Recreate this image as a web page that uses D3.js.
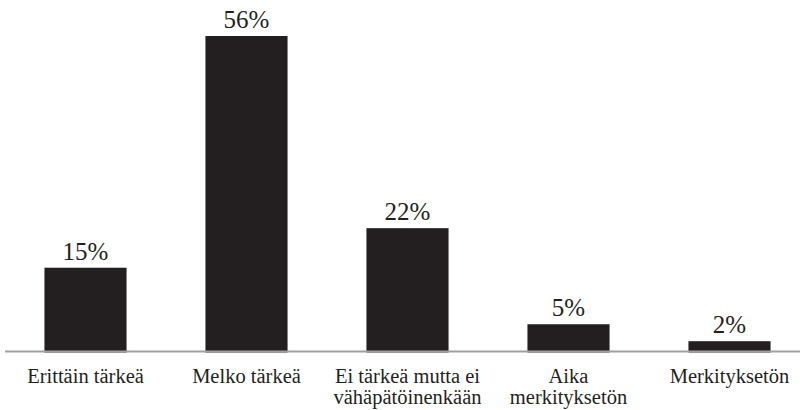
<!DOCTYPE html>
<html>
<head>
<meta charset="utf-8">
<script src="https://cdn.jsdelivr.net/npm/d3@7"></script>
</head>
<body style="margin:0">
<svg id="chart" width="803" height="410" font-family="Liberation Serif"></svg>
<script>
const categories = [["Erittäin tärkeä"], ["Melko tärkeä"], ["Ei tärkeä mutta ei", "vähäpätöinenkään"], ["Aika", "merkityksetön"], ["Merkityksetön"]];
const values = [15, 56, 22, 5, 2];
const valueLabels = ["15%", "56%", "22%", "5%", "2%"];

const svg = d3.select("#chart");
const keys = categories.map((c, i) => "c" + i);

const x = d3.scaleBand().domain(keys).range([5, 810]).paddingInner(0.49).paddingOuter(0.245);
const y = d3.scaleLinear().domain([0, 56]).range([352.5, 36]);

svg.selectAll("rect.bar").data(values).enter().append("rect")
  .attr("x", (d, i) => x(keys[i]))
  .attr("width", x.bandwidth())
  .attr("y", d => y(d))
  .attr("height", d => y(0) - y(d))
  .attr("fill", "#231f20");

svg.append("line")
  .attr("x1", 5).attr("x2", 800)
  .attr("y1", 351.5).attr("y2", 351.5)
  .attr("stroke", "#a0a0a0").attr("stroke-width", 2);

values.forEach((v, i) => {
  svg.append("text")
    .attr("x", x(keys[i]) + x.bandwidth() / 2)
    .attr("y", y(v) - 8)
    .attr("text-anchor", "middle")
    .style("font-family", "'Liberation Serif'")
    .style("font-size", "25px")
    .attr("fill", "#231f20")
    .text(valueLabels[i]);
});

categories.forEach((lines, i) => {
  lines.forEach((line, j) => {
    svg.append("text")
      .attr("x", x(keys[i]) + x.bandwidth() / 2)
      .attr("y", 383 + j * 21)
      .attr("text-anchor", "middle")
      .style("font-family", "'Liberation Serif'")
      .style("font-size", "20.5px")
      .attr("fill", "#231f20")
      .text(line);
  });
});
</script>
</body>
</html>
